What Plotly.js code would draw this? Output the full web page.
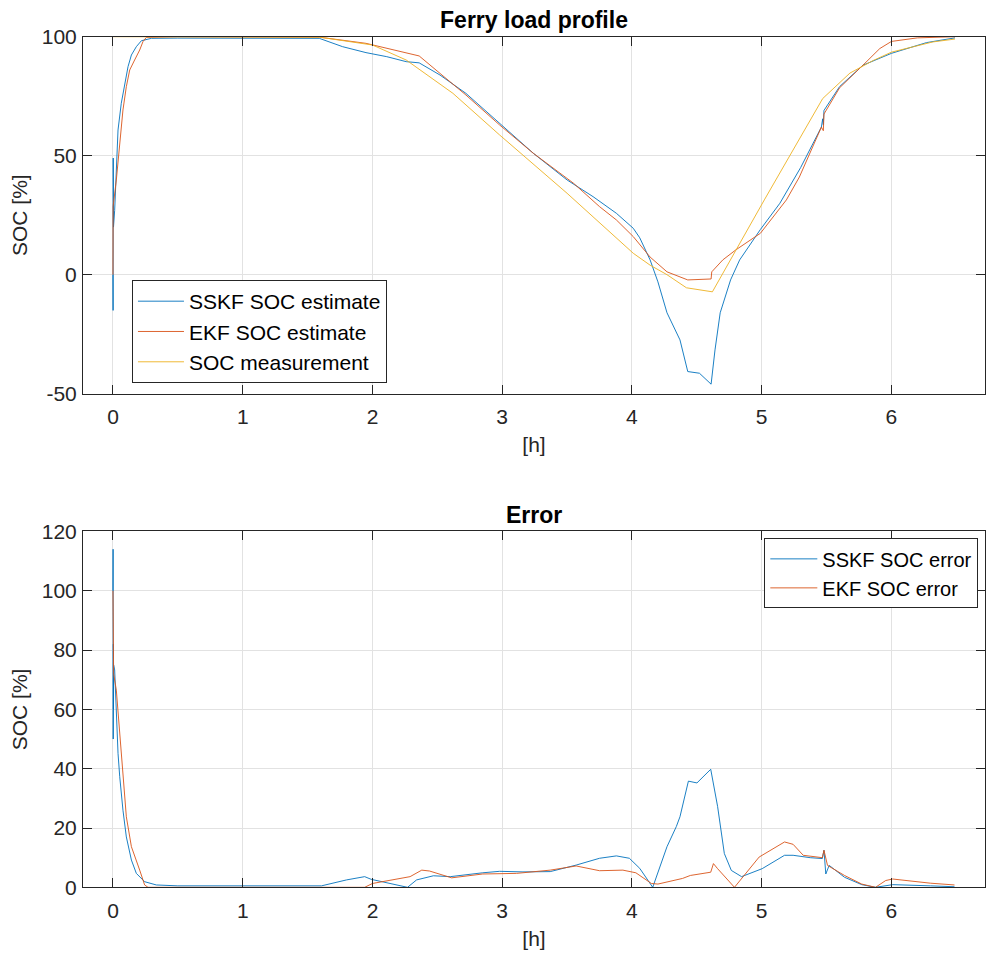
<!DOCTYPE html>
<html>
<head>
<meta charset="utf-8">
<script src="https://cdn.plot.ly/plotly-3.0.1.min.js"></script>
<style>
  html, body { margin: 0; padding: 0; background: #fff; }
  #chart { width: 988px; height: 960px; }
</style>
</head>
<body>
<div id="chart"></div>
<script>
// ---- Ferry load profile: SOC estimates vs. measurement [%] over time [h] ----
const sskfT = [0, 0.001, 0.002, 0.004, 0.013, 0.039, 0.064, 0.09, 0.116, 0.142, 0.18, 0.219, 0.296, 0.5, 1.0, 1.59,
  1.77, 1.95, 2.11, 2.26, 2.36, 2.52, 2.72, 2.98, 3.24, 3.5, 3.7, 3.88, 3.96, 4.01, 4.06, 4.14, 4.2, 4.27, 4.37, 4.43,
  4.52, 4.61, 4.64, 4.68, 4.76, 4.83, 4.99, 5.14, 5.3, 5.46, 5.47, 5.475, 5.48, 5.6, 5.78, 6.0, 6.27, 6.49];
const sskfSOC = [0, -15, 49, 20, 27, 60.8, 72, 80.4, 87.4, 92.3, 95.8, 98.3, 99.3, 99.4, 99.4, 99.3,
  95.8, 93.3, 91.6, 89.5, 89, 83.9, 76.2, 63.6, 51, 39.8, 32.8, 25.8, 22, 19.5, 15.5, 6.2, -3, -16, -27.4, -40.7,
  -41.4, -46, -31.6, -16, -2.2, 6.2, 19, 30, 45, 62, 65.5, 63, 69, 79, 88, 93, 97.5, 99.5];

const ekfT = [0, 0.001, 0.026, 0.052, 0.077, 0.103, 0.129, 0.167, 0.206, 0.231, 0.257, 0.5, 1.59, 1.95, 2.16, 2.36,
  2.52, 2.72, 2.98, 3.24, 3.55, 3.75, 3.88, 4.01, 4.14, 4.27, 4.43, 4.61, 4.615, 4.7, 4.8, 4.99, 5.19, 5.29, 5.46,
  5.475, 5.48, 5.6, 5.78, 5.85, 5.91, 6.0, 6.2, 6.49];
const ekfSOC = [0, 28.6, 39.8, 53.8, 69.2, 79, 86, 90.2, 94.4, 97.9, 99.7, 100, 99.8, 97.2, 94.4, 91.9,
  84.6, 75.5, 62.9, 51, 38.4, 28.6, 23, 16, 7.4, 1.2, -2.2, -1.8, 1.2, 6.2, 10.4, 17.4, 31.4, 41, 62,
  60.5, 67.5, 78.5, 88, 92, 95, 98, 99.5, 100];

const measT = [0, 1.59, 2.0, 2.26, 2.62, 2.98, 3.5, 4.01, 4.14, 4.27, 4.42, 4.62, 5.02, 5.47, 5.68, 5.86, 6.0, 6.32, 6.49];
const measSOC = [100, 99.8, 96.5, 90.2, 76.2, 58.7, 34.2, 9, 4, 0, -5.5, -7.2, 31.4, 74, 84.7, 90, 93.5, 97.8, 99];

// ---- Error: absolute SOC error of each filter [%] ----
const sskfErrT = [0, 0.001, 0.002, 0.003, 0.004, 0.005, 0.013, 0.026, 0.039, 0.052, 0.077, 0.103, 0.142, 0.18, 0.244,
  0.334, 0.5, 1.607, 1.8, 1.94, 1.99, 2.27, 2.34, 2.47, 2.6, 2.85, 2.98, 3.16, 3.37, 3.57, 3.75, 3.88, 3.98, 4.06,
  4.16, 4.27, 4.342, 4.37, 4.435, 4.501, 4.607, 4.66, 4.712, 4.766, 4.845, 5.004, 5.176, 5.242, 5.374, 5.467, 5.48,
  5.494, 5.52, 5.638, 5.771, 5.877, 6.01, 6.3, 6.486];
const sskfErr = [100, 114, 50, 82, 60, 75, 73.3, 57.5, 45.2, 37.3, 26, 17, 9.2, 4.7, 1.9,
  0.8, 0.5, 0.5, 2.5, 3.6, 2.7, 0, 2.5, 3.9, 3.6, 4.9, 5.4, 5.2, 5.3, 7.5, 9.8, 10.6, 9.8, 6.4,
  0, 13.7, 20.5, 23.8, 35.8, 35.2, 39.8, 27.3, 11.4, 5.7, 3.6, 6.3, 10.8, 10.8, 10, 9.7, 12.5,
  4.5, 7.4, 3.4, 0.9, 0, 0.9, 0.5, 0.2];

const ekfErrT = [0, 0.002, 0.005, 0.026, 0.052, 0.077, 0.103, 0.142, 0.18, 0.206, 0.244, 0.27, 1.94, 2.0, 2.29, 2.38,
  2.44, 2.61, 2.85, 3.11, 3.37, 3.57, 3.75, 3.93, 4.03, 4.15, 4.2, 4.39, 4.45, 4.607, 4.628, 4.66, 4.79, 4.98, 5.176,
  5.242, 5.32, 5.467, 5.48, 5.507, 5.638, 5.771, 5.877, 5.956, 6.01, 6.3, 6.486];
const ekfErr = [100, 72, 72, 66.5, 52, 37.3, 23.8, 13.7, 9.2, 5.8, 0.8, 0, 0, 1.3, 3.6, 5.8,
  5.5, 3.2, 4.5, 4.7, 5.8, 7.2, 5.6, 5.8, 4.9, 1.3, 1.1, 3, 4, 5.1, 8, 6.3, 0, 10.2, 15.3,
  14.5, 10.8, 10, 12.5, 7.4, 4, 1.1, 0, 2.3, 2.8, 1.4, 0.8];

// Axis ticks
const xTicks = [0, 1, 2, 3, 4, 5, 6];
const socTicks = [-50, 0, 50, 100];
const socTickText = ['-50', '0', '50', '100'];
const errTicks = [0, 20, 40, 60, 80, 100, 120];

const BLUE = '#0072BD', ORANGE = '#D95319', YELLOW = '#EDB120';
const AX = '#262626', GRID = '#e2e2e2';
const FONT = 'Liberation Sans, Arial, Helvetica, sans-serif';
const LW = 0.9;

const traces = [
  { x: sskfT, y: sskfSOC, name: 'SSKF SOC estimate', mode: 'lines', line: { color: BLUE, width: LW }, xaxis: 'x', yaxis: 'y', legend: 'legend' },
  { x: ekfT, y: ekfSOC, name: 'EKF SOC estimate', mode: 'lines', line: { color: ORANGE, width: LW }, xaxis: 'x', yaxis: 'y', legend: 'legend' },
  { x: measT, y: measSOC, name: 'SOC measurement', mode: 'lines', line: { color: YELLOW, width: LW }, xaxis: 'x', yaxis: 'y', legend: 'legend' },
  { x: sskfErrT, y: sskfErr, name: 'SSKF SOC error', mode: 'lines', line: { color: BLUE, width: LW }, xaxis: 'x2', yaxis: 'y2', legend: 'legend2' },
  { x: ekfErrT, y: ekfErr, name: 'EKF SOC error', mode: 'lines', line: { color: ORANGE, width: LW }, xaxis: 'x2', yaxis: 'y2', legend: 'legend2' }
];

function xAxis(anchor) {
  return {
    anchor: anchor, domain: [0, 1], range: [-0.231, 6.721],
    tickvals: xTicks, ticks: 'inside', ticklen: 9, tickcolor: AX, tickwidth: 1,
    showline: true, linecolor: AX, linewidth: 1, mirror: 'ticks',
    showgrid: true, gridcolor: GRID, zeroline: false, automargin: false,
    tickfont: { family: FONT, size: 21, color: AX }, ticklabelstandoff: 4,
    title: { text: '[h]', font: { family: FONT, size: 21, color: AX }, standoff: 10 }
  };
}
function yAxis(anchor, domain, range, vals, text) {
  const ax = {
    anchor: anchor, domain: domain, range: range,
    tickvals: vals, ticks: 'inside', ticklen: 9, tickcolor: AX, tickwidth: 1,
    showline: true, linecolor: AX, linewidth: 1, mirror: 'ticks',
    showgrid: true, gridcolor: GRID, zeroline: false, automargin: false,
    tickfont: { family: FONT, size: 21, color: AX }, ticklabelstandoff: 1,
    title: { text: 'SOC [%]', font: { family: FONT, size: 21, color: AX }, standoff: 8 }
  };
  if (text) ax.ticktext = text;
  return ax;
}

const layout = {
  width: 988, height: 960,
  margin: { l: 83, r: 3, t: 0, b: 0 },
  paper_bgcolor: '#ffffff', plot_bgcolor: '#ffffff',
  font: { family: FONT, color: AX },
  showlegend: true,
  title: { text: '<b>Ferry load profile</b>', x: 0.5, xref: 'paper', xanchor: 'center',
           y: 1 - 20 / 960, yref: 'container', yanchor: 'middle', font: { family: FONT, size: 23, color: '#000' } },
  xaxis: xAxis('y'),
  yaxis: yAxis('x', [0.5899, 0.9618], [-50, 100], socTicks, socTickText),
  xaxis2: xAxis('y2'),
  yaxis2: yAxis('x2', [0.0757, 0.4464], [0, 120], errTicks, null),
  legend: {
    x: 0.0543, y: 0.7083, xanchor: 'left', yanchor: 'top', xref: 'paper', yref: 'paper',
    bgcolor: '#ffffff', bordercolor: AX, borderwidth: 1, itemwidth: 46, tracegroupgap: 0,
    font: { family: FONT, size: 21, color: '#000' }
  },
  legend2: {
    x: 0.9926, y: 0.4392, xanchor: 'right', yanchor: 'top', xref: 'paper', yref: 'paper',
    bgcolor: '#ffffff', bordercolor: AX, borderwidth: 1, itemwidth: 47, tracegroupgap: 0,
    font: { family: FONT, size: 20, color: '#000' }
  },
  annotations: [
    { text: '<b>Error</b>', x: 0.5, xref: 'paper', xanchor: 'center', y: 1 - 515 / 960, yref: 'paper',
      yanchor: 'middle', showarrow: false, font: { family: FONT, size: 23, color: '#000' } }
  ]
};

Plotly.newPlot('chart', traces, layout, { displayModeBar: false, staticPlot: true });
</script>
</body>
</html>
